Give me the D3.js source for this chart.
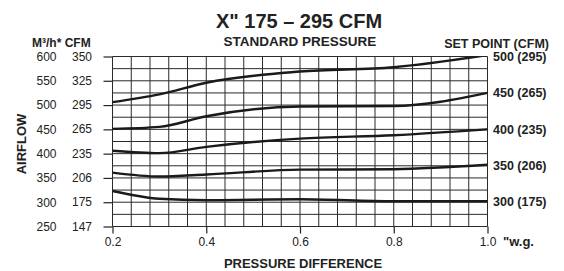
<!DOCTYPE html>
<html lang="en">
<head>
  <meta charset="UTF-8" />
  <title>X" 175 – 295 CFM Standard Pressure</title>
  <style>
    body {
      margin: 0;
      background: #fff;
      font-family: 'Liberation Sans', Arial, sans-serif;
    }
    svg { display: block; }
    .grid line { stroke: #2a2a2a; stroke-width: 1; }
    .axis path { display: none; }
    .axis line { stroke: #222; stroke-width: 1.2; }
    .axis text { font-size: 12px; fill: #222; font-family: 'Liberation Sans', Arial, sans-serif; }
    .bold { font-weight: bold; fill: #222; }
    .curve { fill: none; stroke: #1a1a1a; stroke-width: 2.4; }
  </style>
</head>
<body>
  <svg id="chart" width="564" height="271"></svg>

  <script src="https://d3js.org/d3.v7.min.js"></script>
  <script>
    // data
    const pressure = [0.2, 0.3, 0.4, 0.6, 0.8, 1.0];   // "w.g.
    const setPoints = ["500 (295)", "450 (265)", "400 (235)", "350 (206)", "300 (175)"];
    const sp500 = [506, 522, 546, 569, 578, 603];
    const sp450 = [451, 455, 477, 497, 498, 525];
    const sp400 = [406, 401, 414, 431, 438, 450];
    const sp350 = [361, 353, 357, 367, 368, 377];
    const sp300 = [323, 307, 304, 306, 302, 302];
    const seriesList = [sp500, sp450, sp400, sp350, sp300];
    const labelY = [599, 525, 450, 376, 302];   // where each set point label sits (M³/h)

    const m3hTicks = [600, 550, 500, 450, 400, 350, 300, 250];
    const cfmTicks = [350, 325, 295, 265, 235, 206, 175, 147];
    const xTicks = [0.2, 0.4, 0.6, 0.8, 1.0];

    const svg = d3.select("#chart");
    const margin = { top: 56.5, right: 76.5, bottom: 44.5, left: 112.5 };
    const width = +svg.attr("width") - margin.left - margin.right;
    const height = +svg.attr("height") - margin.top - margin.bottom;

    const x = d3.scaleLinear().domain([0.2, 1.0]).range([0, width]);
    const y = d3.scaleLinear().domain([250, 600]).range([height, 0]);

    const g = svg.append("g").attr("transform", `translate(${margin.left},${margin.top})`);

    // grid
    const grid = g.append("g").attr("class", "grid");
    grid.selectAll(".h").data(d3.range(250, 601, 25)).join("line")
        .attr("x1", 0).attr("x2", width)
        .attr("y1", d => y(d)).attr("y2", d => y(d));
    grid.selectAll(".v").data(d3.range(0, 21).map(i => 0.2 + i * 0.04)).join("line")
        .attr("y1", 0).attr("y2", height)
        .attr("x1", d => x(d)).attr("x2", d => x(d));

    // left axis: M³/h labels + tick marks
    g.append("g").attr("class", "axis")
      .call(d3.axisLeft(y).tickValues(m3hTicks).tickSize(9).tickPadding(47).tickFormat(d3.format("d")));

    // CFM column
    g.append("g").attr("class", "axis")
      .selectAll("text").data(m3hTicks).join("text")
      .attr("x", -20.5).attr("y", d => y(d)).attr("dy", "0.34em")
      .attr("text-anchor", "end")
      .text((d, i) => cfmTicks[i]);

    // bottom axis
    g.append("g").attr("class", "axis")
      .attr("transform", `translate(0,${height})`)
      .call(d3.axisBottom(x).tickValues(xTicks).tickSize(7).tickPadding(4).tickFormat(d3.format(".1f")));

    // curves
    g.append("clipPath").attr("id", "plotClip")
      .append("rect").attr("width", width).attr("height", height);
    const line = d3.line()
      .x((d, i) => x(pressure[i]))
      .y(d => y(d))
      .curve(d3.curveMonotoneX);
    g.append("g").attr("clip-path", "url(#plotClip)")
      .selectAll("path").data(seriesList).join("path")
      .attr("class", "curve")
      .attr("d", line);

    // set point labels
    g.selectAll(".sp").data(setPoints).join("text")
      .attr("class", "bold")
      .attr("x", width + 5.5)
      .attr("y", (d, i) => y(labelY[i]))
      .attr("dy", "0.35em")
      .attr("font-size", "12.5px")
      .text(d => d);

    // titles and axis labels
    svg.append("text").attr("class", "bold")
      .attr("x", 299).attr("y", 27.5).attr("text-anchor", "middle")
      .attr("font-size", "20px")
      .text("X\"  175 – 295 CFM");
    svg.append("text").attr("class", "bold")
      .attr("x", 300).attr("y", 46).attr("text-anchor", "middle")
      .attr("font-size", "13.5px")
      .text("STANDARD PRESSURE");
    svg.append("text").attr("class", "bold")
      .attr("x", 32).attr("y", 47)
      .attr("font-size", "12px")
      .text("M³/h* CFM");
    svg.append("text").attr("class", "bold")
      .attr("x", 549).attr("y", 48).attr("text-anchor", "end")
      .attr("font-size", "12.5px")
      .text("SET POINT (CFM)");
    svg.append("text").attr("class", "bold")
      .attr("transform", "translate(26,144) rotate(-90)")
      .attr("text-anchor", "middle")
      .attr("font-size", "13px")
      .text("AIRFLOW");
    svg.append("text").attr("class", "bold")
      .attr("x", 303).attr("y", 268).attr("text-anchor", "middle")
      .attr("font-size", "13px")
      .text("PRESSURE DIFFERENCE");
    svg.append("text").attr("class", "bold")
      .attr("x", 503).attr("y", 246)
      .attr("font-size", "13px")
      .text("\"w.g.");
  </script>
</body>
</html>
